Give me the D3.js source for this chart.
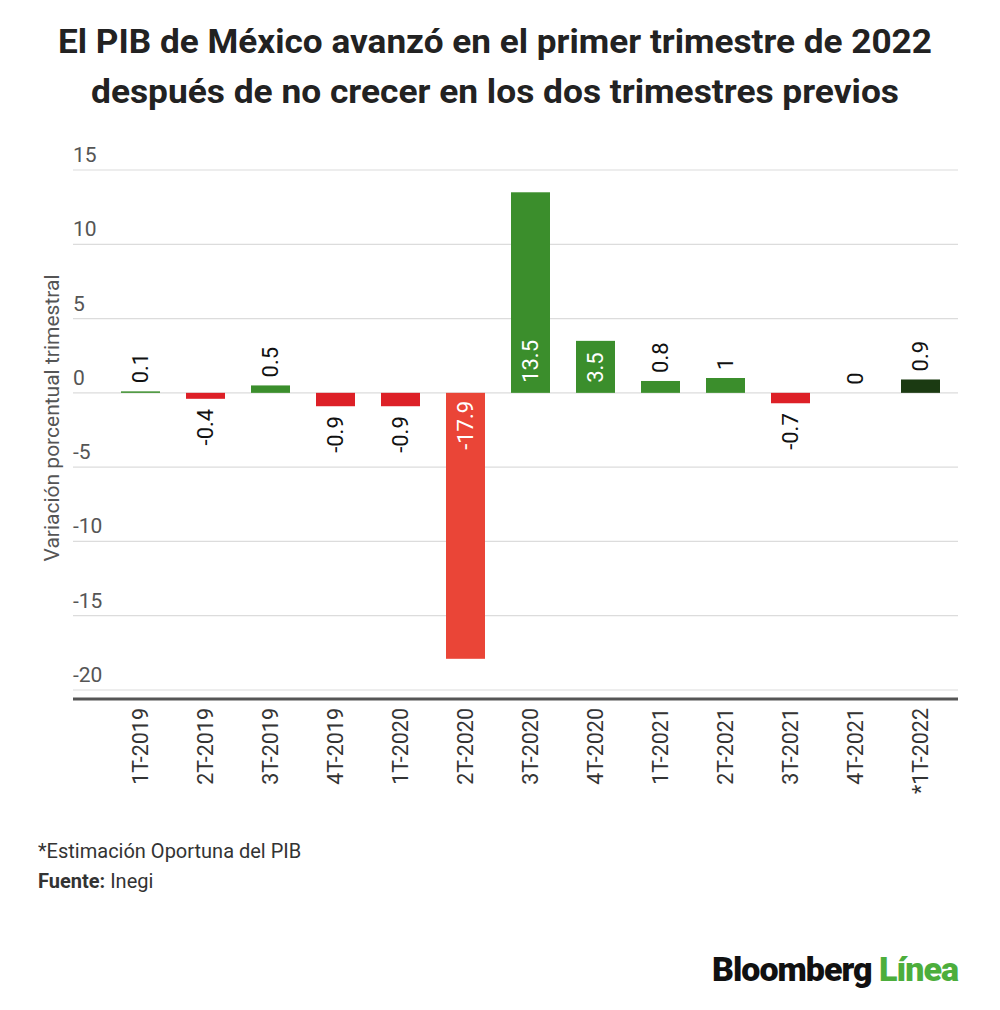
<!DOCTYPE html>
<html>
<head>
<meta charset="utf-8">
<script src="https://cdn.jsdelivr.net/npm/d3@7"></script>
<style>
  body { margin: 0; background: #fff; }
  text { font-family: Roboto, "Noto Sans", sans-serif; }
</style>
</head>
<body>
<svg id="chart" width="1000" height="1010"></svg>
<script>
var quarters = ["1T-2019", "2T-2019", "3T-2019", "4T-2019", "1T-2020", "2T-2020",
                "3T-2020", "4T-2020", "1T-2021", "2T-2021", "3T-2021", "4T-2021", "*1T-2022"];
var growth = [0.1, -0.4, 0.5, -0.9, -0.9, -17.9, 13.5, 3.5, 0.8, 1, -0.7, 0, 0.9];
var yTicks = [15, 10, 5, 0, -5, -10, -15, -20];
var titleLines = ["El PIB de México avanzó en el primer trimestre de 2022",
                  "después de no crecer en los dos trimestres previos"];

var svg = d3.select("#chart");

var x = d3.scaleBand()
    .domain(quarters)
    .range([108, 953])
    .paddingInner(0.4)
    .paddingOuter(0.2);

var y = d3.scaleLinear()
    .domain([-20, 15])
    .range([690, 170]);

function barColor(d, i) {
  if (quarters[i] === "*1T-2022") return "#1b3a12";
  if (d < -10) return "#ea4537";
  return d >= 0 ? "#3b8e2c" : "#dd2027";
}

// title
svg.selectAll("text.title")
  .data(titleLines)
  .enter()
  .append("text")
  .attr("class", "title")
  .attr("x", 495)
  .attr("y", function (d, i) { return 53 + i * 50; })
  .attr("text-anchor", "middle")
  .attr("textLength", function (d, i) { return i == 0 ? 874 : 808; })
  .attr("lengthAdjust", "spacingAndGlyphs")
  .style("font-size", "33px")
  .style("font-weight", "bold")
  .style("fill", "#222")
  .text(function (d) { return d; });

// gridlines
svg.append("g")
  .selectAll("line")
  .data(yTicks)
  .enter()
  .append("line")
  .attr("x1", 73)
  .attr("x2", 958)
  .attr("y1", function (d) { return y(d); })
  .attr("y2", function (d) { return y(d); })
  .attr("stroke", "#dcdcdc")
  .attr("stroke-width", 1.2);

svg.append("g")
  .selectAll("text")
  .data(yTicks)
  .enter()
  .append("text")
  .attr("x", 73)
  .attr("y", function (d) { return y(d) - 8; })
  .style("font-size", "21px")
  .style("fill", "#555")
  .text(function (d) { return d; });

// y title
svg.append("text")
  .attr("transform", "translate(52,418) rotate(-90)")
  .attr("text-anchor", "middle")
  .attr("dominant-baseline", "central")
  .style("font-size", "21px")
  .style("fill", "#555")
  .text("Variación porcentual trimestral");

// bars
svg.append("g")
  .selectAll("rect")
  .data(growth)
  .enter()
  .append("rect")
  .attr("x", function (d, i) { return x(quarters[i]); })
  .attr("width", x.bandwidth())
  .attr("y", function (d) { return Math.min(y(d), y(0)); })
  .attr("height", function (d) { return Math.abs(y(d) - y(0)); })
  .attr("fill", barColor);

// value labels
function isInside(d) { return Math.abs(y(d) - y(0)) > 50; }

svg.append("g")
  .selectAll("text")
  .data(growth)
  .enter()
  .append("text")
  .attr("transform", function (d, i) {
    var cx = x(quarters[i]) + x.bandwidth() / 2;
    var py;
    if (isInside(d)) py = d >= 0 ? y(0) - 10 : y(0) + 8;
    else py = d >= 0 ? y(d) - 8 : y(d) + 10;
    return "translate(" + cx + "," + py + ") rotate(-90)";
  })
  .attr("text-anchor", function (d) { return d >= 0 ? "start" : "end"; })
  .attr("dominant-baseline", "central")
  .style("font-size", "22px")
  .style("fill", function (d) { return isInside(d) ? "#fff" : "#111"; })
  .text(function (d) { return d; });

// x axis line
svg.append("line")
  .attr("x1", 73)
  .attr("x2", 958)
  .attr("y1", y(-20.6))
  .attr("y2", y(-20.6))
  .attr("stroke", "#555")
  .attr("stroke-width", 3);

svg.append("g")
  .selectAll("text")
  .data(quarters)
  .enter()
  .append("text")
  .attr("transform", function (d) {
    return "translate(" + (x(d) + x.bandwidth() / 2) + ",708) rotate(-90)";
  })
  .attr("text-anchor", "end")
  .attr("dominant-baseline", "central")
  .style("font-size", "21.5px")
  .style("fill", "#333")
  .text(function (d) { return d; });

// footer
svg.append("text")
  .attr("x", 38)
  .attr("y", 858)
  .style("font-size", "20px")
  .style("fill", "#333")
  .text("*Estimación Oportuna del PIB");

var src = svg.append("text")
  .attr("x", 38)
  .attr("y", 888)
  .style("font-size", "20px")
  .style("fill", "#333");
src.append("tspan").style("font-weight", "bold").text("Fuente:");
src.append("tspan").text(" Inegi");

// logo
var logo = svg.append("text")
  .attr("x", 958)
  .attr("y", 981)
  .attr("text-anchor", "end")
  .style("font-size", "34px")
  .style("font-weight", "900")
  .style("letter-spacing", "-1px");
logo.append("tspan").style("fill", "#111").text("Bloomberg ");
logo.append("tspan").style("fill", "#4cae3c").text("Línea");
</script>
</body>
</html>
